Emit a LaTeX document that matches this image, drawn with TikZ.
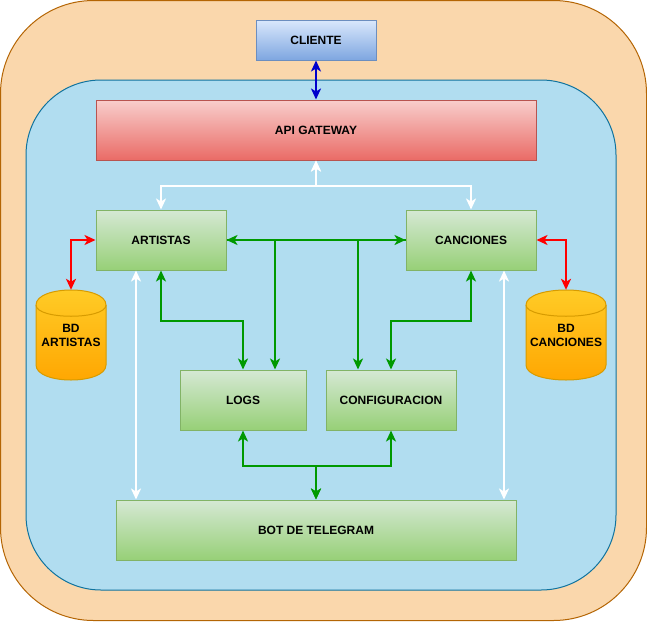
\documentclass[tikz,border=0pt]{standalone}
\usepackage{fontspec}
\setmainfont{Liberation Sans}
\usetikzlibrary{arrows.meta,calc}
\definecolor{orfill}{HTML}{FAD7AC}
\definecolor{ordraw}{HTML}{B46504}
\definecolor{blfill}{HTML}{B1DDF0}
\definecolor{bldraw}{HTML}{10739E}
\definecolor{clitop}{HTML}{DAE8FC}
\definecolor{clibot}{HTML}{7EA6E0}
\definecolor{clidraw}{HTML}{6C8EBF}
\definecolor{apitop}{HTML}{F8CECC}
\definecolor{apibot}{HTML}{EA6B66}
\definecolor{apidraw}{HTML}{B85450}
\definecolor{grtop}{HTML}{D5E8D4}
\definecolor{grbot}{HTML}{97D077}
\definecolor{grdraw}{HTML}{82B366}
\definecolor{cytop}{HTML}{FFCD28}
\definecolor{cybot}{HTML}{FFA500}
\definecolor{cydraw}{HTML}{D79B00}
\definecolor{lnblue}{HTML}{0000CC}
\definecolor{lngreen}{HTML}{009900}
\definecolor{lnred}{HTML}{FF0000}
\newcommand\cylshape[4]{% x0 y0 x1 y1
  \shade[top color=cytop,bottom color=cybot,draw=cydraw,line width=1pt]
    (#1,#2+15) .. controls (#1,#2-5) and (#3,#2-5) .. (#3,#2+15)
    -- (#3,#4-15) .. controls (#3,#4+5) and (#1,#4+5) .. (#1,#4-15) -- cycle;
  \draw[cydraw,line width=1pt]
    (#1,#2+15) .. controls (#1,#2+30) and (#3,#2+30) .. (#3,#2+15);}
\begin{document}
\begin{tikzpicture}[x=1pt,y=-1pt,
  lbl/.style={font=\fontsize{12}{14}\selectfont\bfseries, align=center, text=black},
  box/.style={lbl, line width=1pt, inner sep=0pt},
  greenbox/.style={box, draw=grdraw, top color=grtop, bottom color=grbot},
  conn/.style={line width=2pt, >={Stealth[length=11pt,width=10pt,inset=3pt]}},
  bluearr/.style={conn, lnblue, <->},
  whitearr/.style={conn, white, <->},
  redarr/.style={conn, lnred, <->},
  greenarr/.style={conn, lngreen, <->},
  greenone/.style={conn, lngreen, ->}]
\useasboundingbox (0,0) rectangle (647,621);
% containers
\draw[fill=orfill, draw=ordraw, line width=1pt, rounded corners=93pt] (0.5,0.5) rectangle (646.5,620.5);
\draw[fill=blfill, draw=bldraw, line width=1pt, rounded corners=75pt] (26,80) rectangle (616,590);
% cylinders
\cylshape{36}{290}{106}{380}
\cylshape{526}{290}{606}{380}
% nodes
\node[box, draw=clidraw, top color=clitop, bottom color=clibot, minimum width=120, minimum height=40] (cli) at (316,40) {CLIENTE};
\node[box, draw=apidraw, top color=apitop, bottom color=apibot, minimum width=440, minimum height=60] (api) at (316,130) {API GATEWAY};
\node[greenbox, minimum width=130, minimum height=60] (art) at (161,240) {ARTISTAS};
\node[greenbox, minimum width=130, minimum height=60] (canc) at (471,240) {CANCIONES};
\node[lbl, inner sep=0pt, minimum width=70, minimum height=90] (bda) at (71,335) {BD\\ARTISTAS};
\node[lbl, inner sep=0pt, minimum width=80, minimum height=90] (bdc) at (566,335) {BD\\CANCIONES};
\node[greenbox, minimum width=126, minimum height=60] (logs) at (243,400) {LOGS};
\node[greenbox, minimum width=130, minimum height=60] (conf) at (391,400) {CONFIGURACION};
\node[greenbox, minimum width=400, minimum height=60] (bot) at (316,530) {BOT DE TELEGRAM};
% connectors
\draw[bluearr] (cli) -- (api);
\draw[whitearr] (api.south) -- ++(0,25) -| (art.north);
\draw[whitearr] (api.south) -- ++(0,25) -| (canc.north);
\draw[redarr] (art.west) -| (bda.north);
\draw[redarr] (canc.east) -| (bdc.north);
\draw[greenarr] (art) -- (canc);
\draw[greenone] (canc.west) -| ([xshift=32pt]logs.north);
\draw[greenone] (art.east) -| ([xshift=-33pt]conf.north);
\draw[greenarr] (art.south) -- ++(0,50) -| (logs.north);
\draw[greenarr] (canc.south) -- ++(0,50) -| (conf.north);
\draw[greenarr] (logs.south) -- ++(0,35) -| (bot.north);
\draw[greenarr] (conf.south) -- ++(0,35) -| (bot.north);
\draw[whitearr] ([xshift=-25pt]art.south) -- ([xshift=-25pt]art.south |- bot.north);
\draw[whitearr] ([xshift=33pt]canc.south) -- ([xshift=33pt]canc.south |- bot.north);
\end{tikzpicture}
\end{document}
